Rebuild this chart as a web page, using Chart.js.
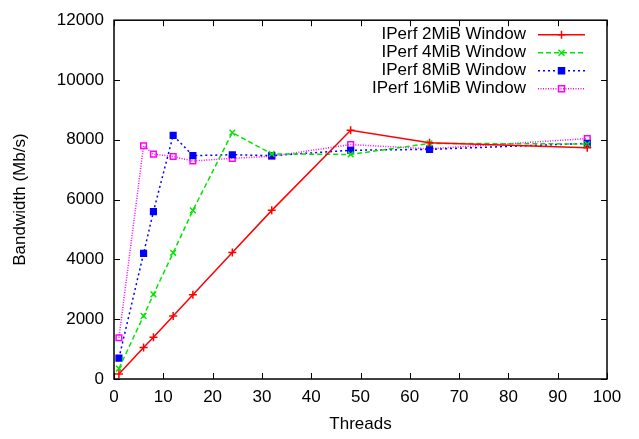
<!DOCTYPE html>
<html>
<head>
<meta charset="utf-8">
<script src="https://cdn.jsdelivr.net/npm/chart.js@4/dist/chart.umd.min.js"></script>
<style>
  html, body { margin: 0; padding: 0; background: #fff; }
  #wrap { width: 639px; height: 439px; }
</style>
</head>
<body>
<div id="wrap"><canvas id="bwChart"></canvas></div>
<script>
const threads = [1, 6, 8, 12, 16, 24, 32, 48, 64, 96];
const win2MiB = [170, 1050, 1400, 2110, 2820, 4230, 5640, 8320, 7900, 7730];
const win4MiB = [350, 2110, 2830, 4220, 5640, 8240, 7530, 7510, 7880, 7860];
const win8MiB = [700, 4200, 5600, 8150, 7470, 7500, 7470, 7650, 7680, 7880];
const win16MiB = [1380, 7800, 7520, 7440, 7290, 7380, 7450, 7840, 7700, 8040];
const seriesLabels = ["IPerf 2MiB Window", "IPerf 4MiB Window", "IPerf 8MiB Window", "IPerf 16MiB Window"];
const xTicks = [0, 10, 20, 30, 40, 50, 60, 70, 80, 90, 100];
const yTicks = [0, 2000, 4000, 6000, 8000, 10000, 12000];

const FONT = "'Liberation Sans', Arial, sans-serif";

function pts(ys) {
  return threads.map((x, i) => ({ x: x, y: ys[i] }));
}

const styles = [
  { color: "#ff0000", dash: [], point: "cross", fill: false },
  { color: "#00e600", dash: [5, 3], point: "crossRot", fill: false },
  { color: "#0000ff", dash: [2, 3], point: "rect", fill: true },
  { color: "#ff00ff", dash: [1, 1.5], point: "rect", fill: false }
];
const allData = [win2MiB, win4MiB, win8MiB, win16MiB];

const datasets = allData.map((d, i) => ({
  label: seriesLabels[i],
  data: pts(d),
  borderColor: styles[i].color,
  backgroundColor: styles[i].fill ? styles[i].color : "rgba(255,255,255,0)",
  borderWidth: 1.5,
  borderDash: styles[i].dash,
  pointStyle: styles[i].point,
  pointRadius: 4,
  pointBorderWidth: 1.5,
  pointBorderColor: styles[i].color,
  pointBackgroundColor: styles[i].fill ? styles[i].color : "rgba(255,255,255,0)",
  tension: 0
}));

// gnuplot style frame, inward ticks and legend
const framePlugin = {
  id: "frame",
  afterDraw(chart) {
    const ctx = chart.ctx;
    const a = chart.chartArea;
    const xs = chart.scales.x, ys = chart.scales.y;
    ctx.save();
    ctx.strokeStyle = "#000";
    ctx.lineWidth = 1.5;
    ctx.setLineDash([]);
    ctx.strokeRect(a.left, a.top, a.right - a.left, a.bottom - a.top);
    ctx.lineWidth = 1;
    const t = 6;
    xTicks.forEach(v => {
      const px = Math.round(xs.getPixelForValue(v)) + 0.5;
      ctx.beginPath();
      ctx.moveTo(px, a.bottom); ctx.lineTo(px, a.bottom - t);
      ctx.moveTo(px, a.top); ctx.lineTo(px, a.top + t);
      ctx.stroke();
    });
    yTicks.forEach(v => {
      const py = Math.round(ys.getPixelForValue(v)) + 0.5;
      ctx.beginPath();
      ctx.moveTo(a.left, py); ctx.lineTo(a.left + t, py);
      ctx.moveTo(a.right, py); ctx.lineTo(a.right - t, py);
      ctx.stroke();
    });

    // legend (text right aligned, sample to the right)
    ctx.font = "17px " + FONT;
    ctx.textAlign = "right";
    ctx.textBaseline = "middle";
    const textRight = a.right - 81;
    const lx0 = a.right - 69, lx1 = a.right - 22;
    const cx = (lx0 + lx1) / 2;
    const r = 4;
    chart.data.datasets.forEach((ds, i) => {
      const y = a.top + 14.5 + i * 18;
      ctx.fillStyle = "#000";
      ctx.fillText(ds.label, textRight, y);
      ctx.strokeStyle = styles[i].color;
      ctx.lineWidth = 1.5;
      ctx.setLineDash(styles[i].dash);
      ctx.beginPath();
      ctx.moveTo(lx0, y); ctx.lineTo(lx1, y);
      ctx.stroke();
      ctx.setLineDash([]);
      ctx.fillStyle = styles[i].fill ? styles[i].color : "#fff";
      ctx.beginPath();
      if (styles[i].point === "cross") {
        ctx.moveTo(cx - r, y); ctx.lineTo(cx + r, y);
        ctx.moveTo(cx, y - r); ctx.lineTo(cx, y + r);
        ctx.stroke();
      } else if (styles[i].point === "crossRot") {
        const d = r * 0.75;
        ctx.moveTo(cx - d, y - d); ctx.lineTo(cx + d, y + d);
        ctx.moveTo(cx - d, y + d); ctx.lineTo(cx + d, y - d);
        ctx.stroke();
      } else {
        const s = r * 0.75;
        ctx.rect(cx - s, y - s, 2 * s, 2 * s);
        if (styles[i].fill) ctx.fill();
        ctx.stroke();
      }
    });
    ctx.restore();
  }
};

new Chart(document.getElementById("bwChart").getContext("2d"), {
  type: "line",
  data: { datasets: datasets },
  options: {
    responsive: true,
    maintainAspectRatio: false,
    animation: false,
    layout: { padding: { left: 0, right: 32, top: 12, bottom: 0 } },
    plugins: {
      legend: { display: false },
      tooltip: { enabled: false }
    },
    scales: {
      x: {
        type: "linear",
        min: 0,
        max: 100,
        afterBuildTicks: s => { s.ticks = xTicks.map(v => ({ value: v })); },
        afterFit: s => { s.height = 60; },
        grid: { display: false, drawTicks: false },
        border: { display: false },
        ticks: { color: "#000", font: { family: FONT, size: 17 }, padding: 8, maxRotation: 0, callback: v => String(v) },
        title: { display: true, text: "Threads", color: "#000", font: { family: FONT, size: 17 }, padding: { top: 1, bottom: 4 } }
      },
      y: {
        type: "linear",
        min: 0,
        max: 12000,
        afterBuildTicks: s => { s.ticks = yTicks.map(v => ({ value: v })); },
        afterFit: s => { s.width = 114; },
        grid: { display: false, drawTicks: false },
        border: { display: false },
        ticks: { color: "#000", font: { family: FONT, size: 17 }, padding: 10, callback: v => String(v) },
        title: { display: true, text: "Bandwidth (Mb/s)", color: "#000", font: { family: FONT, size: 17 }, padding: { top: 10, bottom: 0 } }
      }
    }
  },
  plugins: [framePlugin]
});
</script>
</body>
</html>
